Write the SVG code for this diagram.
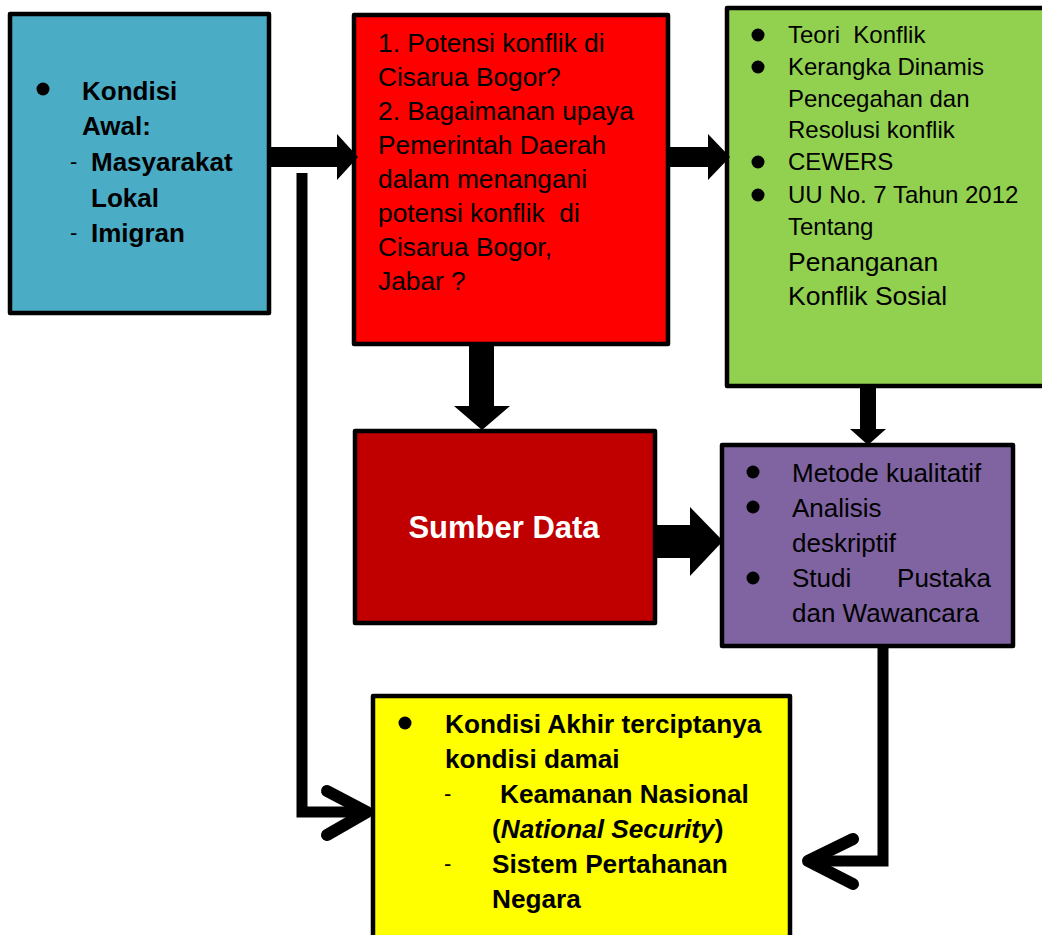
<svg xmlns="http://www.w3.org/2000/svg" width="1042" height="935" viewBox="0 0 1042 935">
<style>
.box{stroke:#000;stroke-width:4.5;stroke-linejoin:round}
.t{font-family:"Liberation Sans",Arial,sans-serif;fill:#000}
.b{font-weight:bold}
.arr{fill:#000}
.ln{fill:none;stroke:#000;stroke-width:11;stroke-linejoin:miter}
.chev{fill:none;stroke:#000;stroke-width:12;stroke-linecap:round;stroke-linejoin:round}
</style>
<rect width="1042" height="935" fill="#fff"/>
<g id="node-awal">
<rect class="box" x="10" y="14" width="259" height="299" fill="#4BACC6"/>
<circle cx="43" cy="89" r="6.5"/>
<g class="t b" font-size="26">
<text x="82" y="100">Kondisi</text>
<text x="82" y="135">Awal:</text>
<text x="91" y="171">Masyarakat</text>
<text x="91" y="207">Lokal</text>
<text x="91" y="242">Imigran</text>
</g>
<g class="t" font-size="22">
<text x="70" y="169">-</text>
<text x="70" y="240">-</text>
</g>
</g>
<g id="node-masalah">
<rect class="box" x="354" y="15" width="314" height="329" fill="#FF0000"/>
<g class="t" font-size="26.3">
<text x="378" y="52">1. Potensi konflik di</text>
<text x="378" y="86">Cisarua Bogor?</text>
<text x="378" y="120">2. Bagaimanan upaya</text>
<text x="378" y="154">Pemerintah Daerah</text>
<text x="378" y="188">dalam menangani</text>
<text x="378" y="222" xml:space="preserve">potensi konflik  di</text>
<text x="378" y="256">Cisarua Bogor,</text>
<text x="378" y="290">Jabar ?</text>
</g>
</g>
<g id="node-teori">
<rect class="box" x="727" y="8" width="322" height="378" fill="#92D050"/>
<circle cx="758" cy="35" r="6.5"/>
<circle cx="758" cy="67" r="6.5"/>
<circle cx="758" cy="162" r="6.5"/>
<circle cx="758" cy="195" r="6.5"/>
<g class="t" font-size="24">
<text x="788" y="43" xml:space="preserve">Teori  Konflik</text>
<text x="788" y="75">Kerangka Dinamis</text>
<text x="788" y="107">Pencegahan dan</text>
<text x="788" y="138">Resolusi konflik</text>
<text x="788" y="170">CEWERS</text>
<text x="788" y="203">UU No. 7 Tahun 2012</text>
<text x="788" y="235">Tentang</text>
</g>
<g class="t" font-size="26.5">
<text x="788" y="271">Penanganan</text>
<text x="788" y="305">Konflik Sosial</text>
</g>
</g>
<g id="node-sumber">
<rect class="box" x="355" y="431" width="300" height="192" fill="#C00000"/>
<text class="t b" x="504" y="538" font-size="31" style="fill:#fff" text-anchor="middle">Sumber Data</text>
</g>
<g id="node-metode">
<rect class="box" x="722" y="445" width="291" height="201" fill="#8064A2"/>
<circle cx="753" cy="472" r="6.5"/>
<circle cx="753" cy="507" r="6.5"/>
<circle cx="753" cy="578" r="6.5"/>
<g class="t" font-size="26">
<text x="792" y="482">Metode kualitatif</text>
<text x="792" y="517">Analisis</text>
<text x="792" y="552">deskriptif</text>
<text x="792" y="587">Studi</text>
<text x="991" y="587" text-anchor="end">Pustaka</text>
<text x="792" y="622">dan Wawancara</text>
</g>
</g>
<g id="node-akhir">
<rect class="box" x="373" y="696" width="417" height="250" fill="#FFFF00"/>
<circle cx="405" cy="723" r="6.5"/>
<g class="t b" font-size="26.2">
<text x="445" y="733">Kondisi Akhir terciptanya</text>
<text x="445" y="768">kondisi damai</text>
<text x="500" y="803">Keamanan Nasional</text>
<text x="492" y="838">(<tspan font-style="italic">National Security</tspan>)</text>
<text x="492" y="873">Sistem Pertahanan</text>
<text x="492" y="908">Negara</text>
</g>
<g class="t" font-size="22">
<text x="444" y="801">-</text>
<text x="444" y="871">-</text>
</g>
</g>
<g id="connectors">
<polygon class="arr" points="268,147 337,147 337,134 358,157 337,180 337,167 268,167"/>
<polygon class="arr" points="667,147 708,147 708,134 730,157 708,180 708,167 667,167"/>
<polygon class="arr" points="469,343 494,343 494,406 510,406 482,430 454,406 469,406"/>
<polygon class="arr" points="653,525 690,525 690,507 723,541 690,576 690,558 653,558"/>
<polygon class="arr" points="860,385 876,385 876,429 886,429 868,445 850,429 860,429"/>
<path class="ln" d="M302,173 V812 H364"/>
<polyline class="chev" points="327,791 367,812 327,835"/>
<path class="ln" d="M883,646 V861 H812"/>
<polyline class="chev" points="853,839 808,861 853,884"/>
</g>
</svg>
